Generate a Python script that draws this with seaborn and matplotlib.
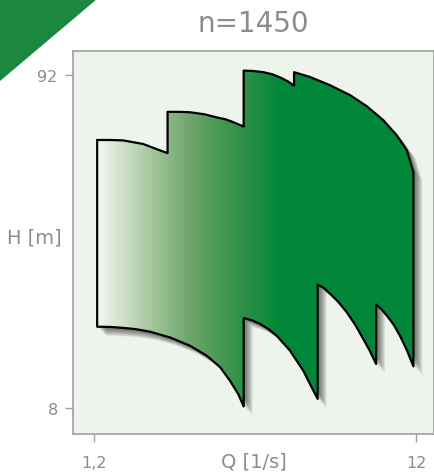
import numpy as np
import matplotlib
matplotlib.use("Agg")
import matplotlib.pyplot as plt
import matplotlib.transforms as mtransforms
from matplotlib.patches import Polygon
from matplotlib.colors import LinearSegmentedColormap
import seaborn as sns

# --- data (Q in 1/s, H in m) ---
top_q1 = [1.31, 1.75, 2.18, 2.85, 3.30, 3.67]
top_h1 = [75.6, 75.6, 75.5, 74.6, 73.3, 72.3]
top_q2 = [3.67, 4.05, 4.42, 4.90, 5.32, 5.62, 5.87, 6.22]
top_h2 = [82.7, 82.7, 82.6, 82.1, 81.3, 80.8, 80.1, 79.0]
top_q3 = [6.22, 6.55, 6.88, 7.17, 7.44, 7.70, 7.91]
top_h3 = [93.1, 93.0, 92.7, 92.2, 91.4, 90.4, 89.3]
top_q4 = [7.91, 8.44, 9.12, 9.79, 10.35, 10.90, 11.35, 11.69, 11.91]
top_h4 = [92.7, 91.5, 89.4, 86.9, 84.1, 80.6, 76.8, 73.0, 67.5]

bot_q1 = [1.31, 1.75, 2.18, 2.60, 3.08, 3.75, 4.42, 4.98, 5.43, 5.76, 6.04, 6.22]
bot_h1 = [28.5, 28.45, 28.2, 27.9, 27.25, 25.8, 23.7, 21.2, 18.3, 14.9, 11.5, 8.4]
bot_q2 = [6.22, 6.50, 6.77, 7.05, 7.33, 7.77, 8.22, 8.50, 8.70]
bot_h2 = [30.7, 30.1, 29.2, 27.9, 26.2, 22.5, 17.4, 13.2, 10.3]
bot_q3 = [8.70, 8.90, 9.12, 9.40, 9.68, 9.96, 10.23, 10.45, 10.66]
bot_h3 = [39.1, 38.3, 36.8, 34.7, 32.1, 29.0, 25.4, 22.4, 19.1]
bot_q4 = [10.66, 10.84, 11.02, 11.25, 11.46, 11.69, 11.91]
bot_h4 = [34.1, 32.9, 31.3, 29.0, 26.2, 22.6, 18.5]

x_ticks = [1.2, 12]
x_ticklabels = ['1,2', '12']
y_ticks = [8, 92]
y_ticklabels = ['8', '92']

# --- outline of the working range ---
q = np.concatenate([top_q1, top_q2, top_q3, top_q4,
                    bot_q4[::-1], bot_q3[::-1], bot_q2[::-1], bot_q1[::-1]])
h = np.concatenate([top_h1, top_h2, top_h3, top_h4,
                    bot_h4[::-1], bot_h3[::-1], bot_h2[::-1], bot_h1[::-1]])
q_closed = np.append(q, q[0])
h_closed = np.append(h, h[0])
pts = np.column_stack([q, h])

sns.set_theme(style="white")
plt.rcParams['font.family'] = ['DejaVu Sans']
grey = '#8c8c8c'

fig = plt.figure(figsize=(4.35, 4.77), dpi=100)
ax = fig.add_axes([73 / 435, 1 - 435 / 477, 361 / 435, 383 / 477])
ax.set_facecolor('#edf4eb')

# soft drop shadow
for d in [1, 2, 3, 4, 5, 6, 7, 8, 9]:
    tr = mtransforms.offset_copy(ax.transData, fig=fig, x=d, y=-d, units='dots')
    ax.add_patch(Polygon(pts, closed=True, facecolor='black', edgecolor='none',
                         alpha=0.08, transform=tr, zorder=2))

poly = Polygon(pts, closed=True, facecolor='#00873a', edgecolor='none', zorder=2.5)
ax.add_patch(poly)

# white -> green gradient on the left part
cmap = LinearSegmentedColormap.from_list('grn', ['#f5f8f3', '#b0cda8', '#6da66a', '#36924a', '#00873a'])
grad = np.tile(np.linspace(0, 1, 256), (2, 1))
im = ax.imshow(grad, extent=[1.31, 7.5, 1.5, 98], cmap=cmap, aspect='auto',
               interpolation='bilinear', zorder=3)
im.set_clip_path(poly)

sns.lineplot(x=q_closed, y=h_closed, sort=False, estimator=None, color='black',
             linewidth=1.6, zorder=4, ax=ax, solid_joinstyle='round')

ax.set_xlim(0.5, 12.6)
ax.set_ylim(1.44, 98.05)

for s in ax.spines.values():
    s.set_color('#a0a0a0')
    s.set_linewidth(1.2)

ax.set_xticks(x_ticks)
ax.set_xticklabels(x_ticklabels)
ax.set_yticks(y_ticks)
ax.set_yticklabels(y_ticklabels)
ax.tick_params(bottom=True, left=True, direction='out', length=6, width=1,
               color='#a0a0a0', labelcolor=grey, labelsize=11.5)
ax.tick_params(axis='x', pad=9)
ax.tick_params(axis='y', pad=5)

ax.set_xlabel('Q [1/s]', fontsize=14, color=grey)
ax.xaxis.label.set_va('center')
ax.xaxis.set_label_coords(0.5, -27 / 383)
ax.set_ylabel('H [m]', fontsize=14, color=grey, rotation=0)
ax.yaxis.label.set_va('center')
ax.yaxis.label.set_ha('center')
ax.yaxis.set_label_coords(-39 / 361, 197 / 383)

fig.text(253.5 / 435, 1 - 24 / 477, 'n=1450', ha='center', va='center',
         fontsize=20, color=grey)

# green corner triangle
fig.patches.append(Polygon([[0, 1], [97 / 435, 1], [0, 1 - 82 / 477]], closed=True,
                           transform=fig.transFigure, facecolor='#1b873f',
                           edgecolor='none'))

fig.savefig('out.png', dpi=100)
